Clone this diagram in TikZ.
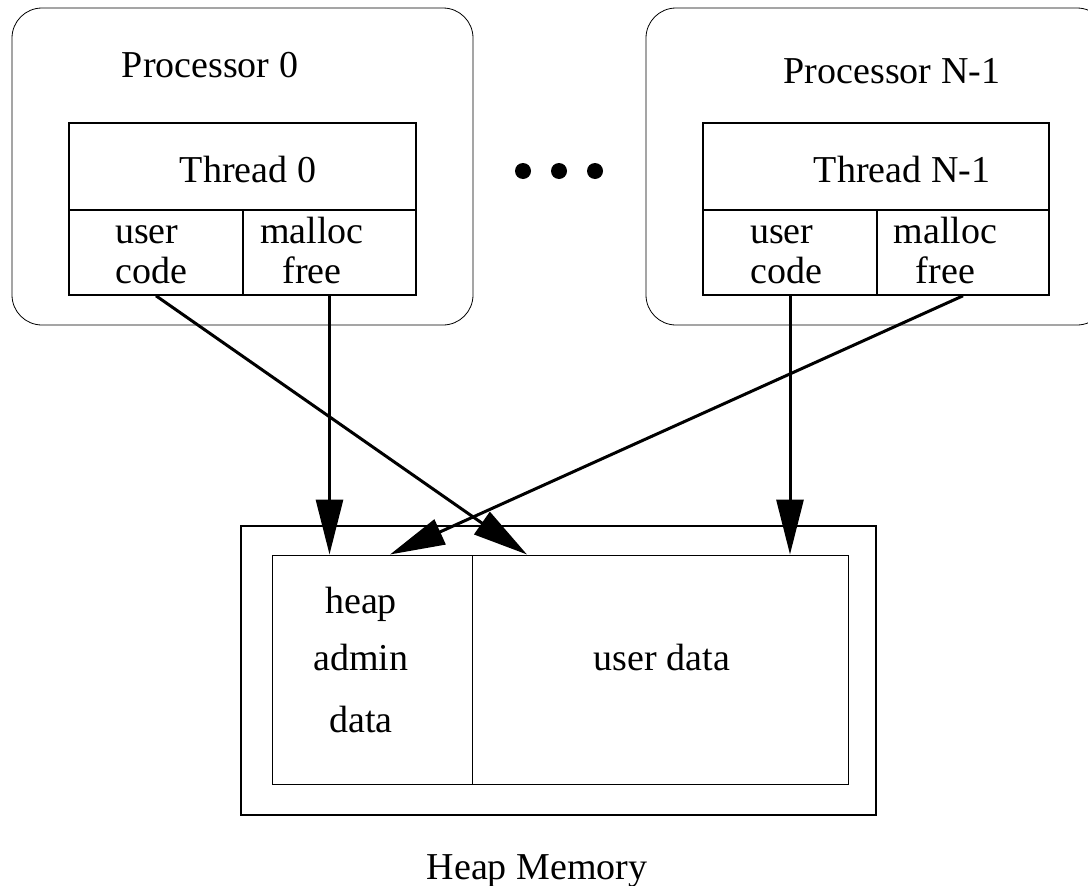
\documentclass[tikz,border=0pt]{standalone}
\usepackage{fontspec}
\setmainfont{Liberation Serif}
\usetikzlibrary{arrows.meta}

\tikzset{
  proc/.style={draw, rounded corners=30pt, line width=0.8pt, inner sep=0pt,
    minimum width=461pt, minimum height=317pt},
  cell/.style={draw, line width=1.6pt, inner sep=0pt, minimum height=85pt},
  area/.style={draw, line width=1pt, inner sep=0pt, minimum height=229pt},
  lbl/.style={anchor=base, inner sep=0pt, font=\fontsize{38}{40}\selectfont},
  acc/.style={line width=3pt, -{Triangle[length=55pt,width=27pt]}},
}

\begin{document}
\begin{tikzpicture}[x=1pt,y=-1pt]
  \useasboundingbox (0,0) rectangle (1088,886);

  % Define nodes
  \node[proc] (proc0) at (242.5,166.5) {};
  \node[proc] (procN) at (876.5,166.5) {};
  \node[cell, minimum width=347pt, minimum height=87pt] (thread0) at (242.5,166.5) {};
  \node[cell, minimum width=174pt] (user0) at (156,252.5) {};
  \node[cell, minimum width=173pt] (malloc0) at (329.5,252.5) {};
  \node[cell, minimum width=346pt, minimum height=87pt] (threadN) at (876,166.5) {};
  \node[cell, minimum width=174pt] (userN) at (790,252.5) {};
  \node[cell, minimum width=172pt] (mallocN) at (963,252.5) {};
  \node[cell, minimum width=635pt, minimum height=289pt] (heap) at (558.5,670.5) {};
  \node[area, minimum width=200pt] (admin) at (372,669.5) {};
  \node[area, minimum width=376pt] (udata) at (660,669.5) {};

  % Labels (base = last line)
  \node[lbl] (proc0lbl) at (210,77) {Processor 0};
  \node[lbl] (procNlbl) at (892,83) {Processor N-1};
  \node[lbl] (thread0lbl) at (248,182) {Thread 0};
  \node[lbl] (threadNlbl) at (902,182) {Thread N-1};
  \node[lbl, align=left] (user0lbl) at (151,283) {user\\code};
  \node[lbl, align=center] (malloc0lbl) at (312,283) {malloc\\free};
  \node[lbl, align=left] (userNlbl) at (786,283) {user\\code};
  \node[lbl, align=center] (mallocNlbl) at (945.5,283) {malloc\\free};
  \node[lbl, align=center] (adminlbl) at (361,732) {heap\\[17pt]admin\\[22pt]data};
  \node[lbl] (udatalbl) at (662,670) {user data};
  \node[lbl] (heaplbl) at (537,879) {Heap Memory};

  % Dots between the processors
  \foreach \x in {523,559,595}
    \fill (\x,171) circle (8pt);

  % Connect the nodes
  \draw[acc] (user0.south) -- ([xshift=-133pt]udata.north);
  \draw[acc] (malloc0.south) -- (malloc0.south |- admin.north);
  \draw[acc] (mallocN.south) -- ([xshift=18pt]admin.north);
  \draw[acc] (userN.south) -- (userN.south |- udata.north);

\end{tikzpicture}
\end{document}
